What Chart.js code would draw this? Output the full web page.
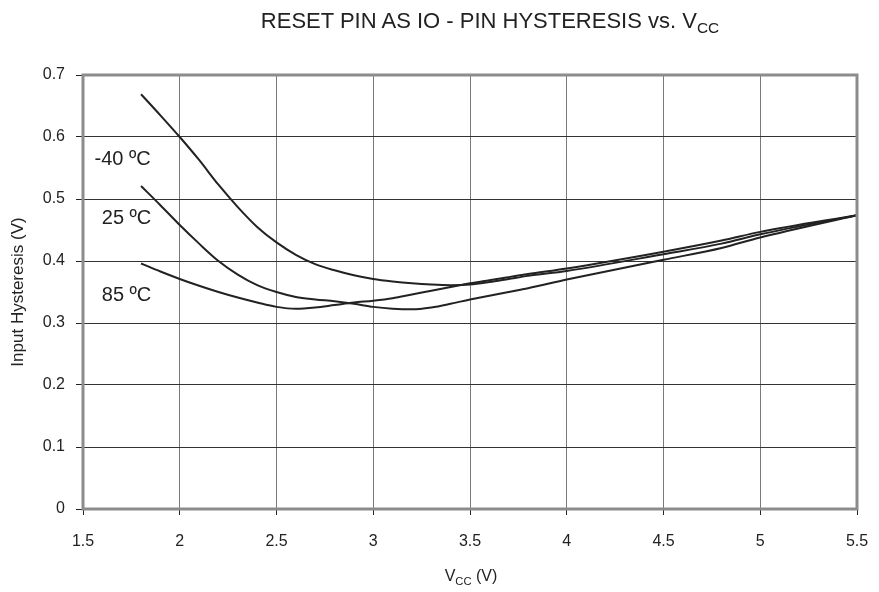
<!DOCTYPE html>
<html><head><meta charset="utf-8">
<script src="https://cdn.jsdelivr.net/npm/chart.js@4/dist/chart.umd.min.js"></script>
<style>
html,body{margin:0;padding:0;background:#fff;}
#wrap{position:relative;width:879px;height:592px;font-family:"Liberation Sans",Arial,sans-serif;color:#222;}
canvas{position:absolute;left:0;top:0;}
.t{position:absolute;white-space:nowrap;transform:translateX(-50%);}
sub{font-size:70%;vertical-align:-0.35em;}
</style></head>
<body><div id="wrap"><canvas id="c" width="879" height="592"></canvas>
<div class="t" style="left:490px;top:8px;font-size:22px;">RESET PIN AS IO - PIN HYSTERESIS vs. V<sub>CC</sub></div>
<div class="t" style="left:471px;top:567px;font-size:16px;">V<sub>CC</sub> (V)</div>
</div>
<script>
const vcc = [1.8,1.9,2.0,2.1,2.2,2.3,2.4,2.5,2.6,2.7,2.8,2.9,3.0,3.1,3.2,3.3,3.4,3.5,3.6,3.7,3.8,4.0,4.5,4.8,5.0,5.5];
const tM40 = [0.669,0.635,0.600,0.563,0.523,0.487,0.455,0.430,0.410,0.395,0.385,0.377,0.371,0.367,0.364,0.362,0.361,0.362,0.366,0.371,0.376,0.384,0.411,0.428,0.443,0.474];
const t25  = [0.521,0.490,0.458,0.428,0.400,0.378,0.361,0.350,0.342,0.338,0.335,0.331,0.326,0.323,0.322,0.325,0.331,0.338,0.344,0.350,0.356,0.370,0.402,0.421,0.438,0.474];
const t85  = [0.396,0.383,0.371,0.360,0.350,0.341,0.333,0.326,0.323,0.325,0.329,0.333,0.336,0.340,0.346,0.352,0.358,0.364,0.369,0.374,0.379,0.388,0.415,0.433,0.447,0.474];
const seriesNames = ["-40 ºC","25 ºC","85 ºC"];
const labelPos = [[1.705,0.563],[1.725,0.469],[1.725,0.345]];
const xTicks = [1.5,2,2.5,3,3.5,4,4.5,5,5.5];
const yTicks = [0,0.1,0.2,0.3,0.4,0.5,0.6,0.7];

const FONT = '"Liberation Sans", Arial, sans-serif';
const series = [tM40,t25,t85];
const datasets = series.map((s,i)=>({
  label: seriesNames[i],
  data: vcc.map((x,j)=>({x:x,y:s[j]})),
  borderColor:'#222', borderWidth:2, pointRadius:0, fill:false,
  cubicInterpolationMode:'monotone'
}));

const labelPlugin = {
  id:'lbls',
  afterDatasetsDraw(chart){
    const ctx=chart.ctx, xs=chart.scales.x, ys=chart.scales.y;
    ctx.save();
    ctx.font='20px '+FONT;
    ctx.fillStyle='#222'; ctx.textAlign='center'; ctx.textBaseline='middle';
    seriesNames.forEach((n,i)=>{
      ctx.fillText(n, xs.getPixelForValue(labelPos[i][0]), ys.getPixelForValue(labelPos[i][1]));
    });
    const a=chart.chartArea;
    ctx.strokeStyle='#8c8c8c'; ctx.lineWidth=3;
    ctx.strokeRect(a.left,a.top,a.right-a.left,a.bottom-a.top);
    ctx.restore();
  }
};

new Chart(document.getElementById('c'),{
  type:'line',
  data:{datasets},
  plugins:[labelPlugin],
  options:{
    responsive:false, animation:false, devicePixelRatio:1,
    layout:{padding:{left:0,right:22,top:75,bottom:0}},
    plugins:{legend:{display:false},tooltip:{enabled:false},title:{display:false}},
    scales:{
      x:{type:'linear',min:1.5,max:5.5,
        afterBuildTicks(s){s.ticks=xTicks.map(v=>({value:v}));},
        afterFit(s){s.height=83;s.paddingRight=0;s.paddingLeft=0;},
        grid:{color:'#7a7a7a',lineWidth:1,tickLength:6,tickColor:'#222'},
        border:{display:false},
        ticks:{color:'#222',padding:17,font:{size:16,family:FONT},maxRotation:0,
          callback:v=>String(v)}
      },
      y:{min:0,max:0.7,
        afterBuildTicks(s){s.ticks=yTicks.map(v=>({value:v}));},
        afterFit(s){s.width=83;s.paddingTop=0;s.paddingBottom=0;},
        grid:{color:'#333',lineWidth:1,tickLength:7,tickColor:'#222'},
        border:{display:false},
        title:{display:true,text:'Input Hysteresis (V)',color:'#222',font:{size:17,family:FONT},padding:{top:8,bottom:0}},
        ticks:{color:'#222',padding:11,font:{size:16,family:FONT},
          callback:v=>String(v)}
      }
    }
  }
});
</script>
</body></html>
